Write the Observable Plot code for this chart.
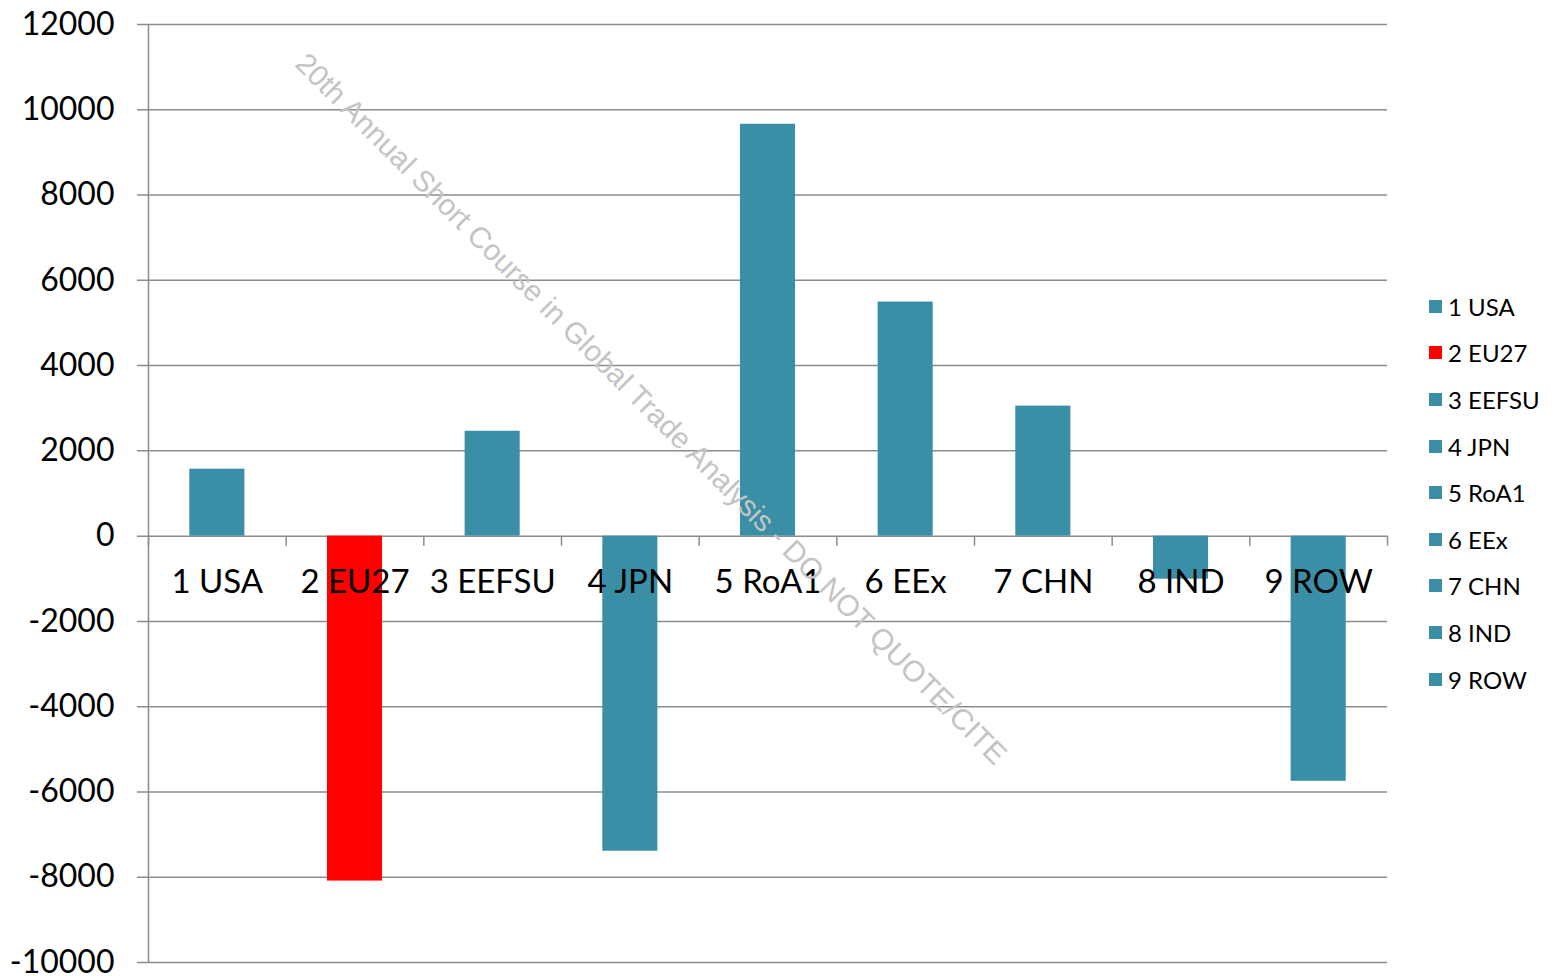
<!DOCTYPE html>
<html><head><meta charset="utf-8">
<script src="https://cdn.jsdelivr.net/npm/d3@7"></script>
<script src="https://cdn.jsdelivr.net/npm/@observablehq/plot@0.6"></script>
<style>
body{margin:0;background:#fff;}
#wrap{position:relative;width:1555px;height:976px;overflow:hidden;font-family:Lato,"Open Sans",sans-serif;}
#legend{position:absolute;left:1429px;top:283px;}
.item{height:46.6px;display:flex;align-items:center;font-size:24px;color:#000;white-space:nowrap;}
.sw{width:13px;height:13px;margin-right:6px;}
</style></head>
<body><div id="wrap"></div>
<script>
const categories = ["1 USA","2 EU27","3 EEFSU","4 JPN","5 RoA1","6 EEx","7 CHN","8 IND","9 ROW"];
const values = [1570, -8090, 2460, -7390, 9660, 5490, 3050, -1010, -5750];
const colors = ["#3A8FA7","#FF0000","#3A8FA7","#3A8FA7","#3A8FA7","#3A8FA7","#3A8FA7","#3A8FA7","#3A8FA7"];
const yTicks = [-10000,-8000,-6000,-4000,-2000,0,2000,4000,6000,8000,10000,12000];
const watermark = "20th Annual Short Course in Global Trade Analysis - DO NOT QUOTE/CITE";

const data = categories.map((c,i)=>({cat:c, value:values[i], color:colors[i]}));
const step = (1555-148-168)/categories.length;

const chart = Plot.plot({
  width:1555, height:976,
  marginLeft:148, marginRight:168, marginTop:24, marginBottom:14,
  style:{fontFamily:"Lato, 'Open Sans', sans-serif", background:"#fff", overflow:"visible"},
  x:{domain:categories, paddingInner:0.6, paddingOuter:0.3, round:false, axis:null},
  y:{domain:[-10000,12000], ticks:yTicks, axis:null},
  marks:[
    Plot.ruleY(yTicks, {stroke:"#8c8c8c", strokeWidth:1.5, insetLeft:-11}),
    Plot.axisY({ticks:yTicks, tickSize:0, tickPadding:34, fontSize:32, color:"#000", label:null, tickFormat:d=>String(d)}),
    Plot.barY(data, {x:"cat", y:"value", fill:"color"}),
    Plot.ruleX(data, {x:"cat", y1:0, y2:-235, dx:-step/2, stroke:"#8c8c8c", strokeWidth:1.5}),
    Plot.ruleX(data.slice(-1), {x:"cat", y1:0, y2:-235, dx:step/2, stroke:"#8c8c8c", strokeWidth:1.5}),
    Plot.ruleX(data.slice(0,1), {x:"cat", y1:-10000, y2:12000, dx:-step/2, stroke:"#8c8c8c", strokeWidth:1.5}),
    Plot.text(data, {x:"cat", y:0, text:"cat", dy:46, fontSize:33, fill:"#000"}),
    Plot.text([watermark], {frameAnchor:"top-left", dx:160, dy:26, rotate:45, textAnchor:"start", fill:"#c4c4c4", fontSize:29.5, fontFamily:"Liberation Sans, Arial, sans-serif"})
  ]
});
const wrap = document.getElementById("wrap");
wrap.appendChild(chart);
const leg = document.createElement("div");
leg.id="legend";
categories.forEach((c,i)=>{
  const it=document.createElement("div");it.className="item";
  const sw=document.createElement("div");sw.className="sw";sw.style.background=colors[i];
  it.appendChild(sw);it.appendChild(document.createTextNode(c));leg.appendChild(it);
});
wrap.appendChild(leg);
</script></body></html>
